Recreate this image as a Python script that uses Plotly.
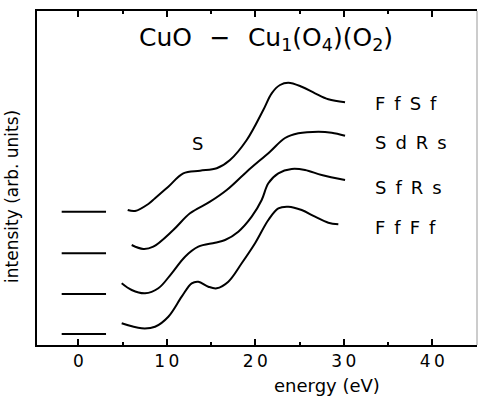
import plotly.graph_objects as go

# ---- data (energy in eV, intensity in arbitrary units) ----
ffff_x = [4.90, 7.16, 8.67, 10.17, 11.68, 12.81, 13.56, 14.69, 15.64, 16.95, 18.46, 19.97, 21.47, 22.60, 23.73, 25.24, 26.75, 28.25, 29.38]
ffff_y = [21.7, 16.7, 18.3, 28.3, 48.3, 61.7, 63.3, 58.3, 56.7, 63.3, 81.7, 101.7, 125, 136.7, 138.3, 135, 128.3, 122.3, 120.7]

sfrs_x = [4.90, 6.03, 7.54, 9.04, 10.55, 12.06, 13.56, 15.45, 16.58, 18.08, 19.59, 20.72, 21.47, 22.60, 24.11, 25.62, 27.50, 30.14]
sfrs_y = [61.7, 55, 51.7, 56.7, 71.7, 88.3, 98.3, 102.3, 105, 113.3, 128.3, 145, 161.7, 171.7, 176, 175, 170, 165]

sdrs_x = [6.03, 7.34, 8.47, 10.73, 12.62, 14.88, 16.77, 19.03, 21.66, 23.36, 24.86, 27.12, 28.63, 30.14]
sdrs_y = [100, 96, 98.3, 115, 131.7, 143.3, 155, 173.3, 193.3, 207, 211.7, 213.3, 212.3, 209.3]

ffsf_x = [5.58, 6.41, 7.91, 8.67, 10.17, 11.86, 13.75, 15.64, 17.14, 19.03, 20.90, 21.85, 22.79, 23.73, 25.24, 26.75, 28.25, 30.14]
ffsf_y = [135, 134, 141, 146.7, 158.3, 171.7, 174.3, 176.7, 185, 205, 235, 251.7, 260, 262.3, 258.3, 251.7, 245.7, 242.7]

baseline_x = [-1.88, 3.13]
baselines = [11, 51, 91.7, 133.3]          # FfFf, SfRs, SdRs, FfSf

labels = ["F\u2002f\u2002S\u2002f", "S\u2002d\u2002R\u2002s", "S\u2002f\u2002R\u2002s", "F\u2002f\u2002F\u2002f"]
label_y = [241.7, 202.5, 157.5, 117.5]
label_x = 33.3

peak_label = "S"
peak_label_x, peak_label_y = 13.5, 202

x_ticks = [0, 10, 20, 30, 40]
x_ticktext = ["0", "1\u20090", "2\u20090", "3\u20090", "4\u20090"]
x_minor = [5, 15, 25, 35]

title_text = ("CuO\u2002\u2009\u2212\u2002\u2009Cu<sub>1</sub>(O<sub>4</sub>)(O<sub>2</sub>)")

FONT = "DejaVu Sans"

fig = go.Figure()

for xs, ys in [(ffff_x, ffff_y), (sfrs_x, sfrs_y), (sdrs_x, sdrs_y), (ffsf_x, ffsf_y)]:
    fig.add_trace(go.Scatter(x=xs, y=ys, mode="lines",
                             line=dict(color="black", width=2, shape="spline", smoothing=1.0),
                             showlegend=False, hoverinfo="skip"))

for b in baselines:
    fig.add_trace(go.Scatter(x=baseline_x, y=[b, b], mode="lines",
                             line=dict(color="black", width=2),
                             showlegend=False, hoverinfo="skip"))

for t, yv in zip(labels, label_y):
    fig.add_annotation(x=label_x, y=yv, text=t, showarrow=False, xanchor="left",
                       yanchor="middle", font=dict(family=FONT, size=18, color="black"))

fig.add_annotation(x=peak_label_x, y=peak_label_y, text=peak_label, showarrow=False,
                   xanchor="center", yanchor="middle",
                   font=dict(family=FONT, size=18, color="black"))

fig.add_annotation(xref="paper", yref="paper", x=0.52, y=0.915, xanchor="center",
                   yanchor="middle", text=title_text, showarrow=False,
                   font=dict(family=FONT, size=25, color="black"))

fig.add_annotation(xref="paper", yref="paper", x=-0.057, y=0.446, textangle=-90,
                   xanchor="center", yanchor="middle",
                   text="intensity (arb. units)", showarrow=False,
                   font=dict(family=FONT, size=17, color="black"))

fig.add_annotation(xref="paper", yref="paper", x=0.659, y=-0.12,
                   xanchor="center", yanchor="middle",
                   text="energy (eV)", showarrow=False,
                   font=dict(family=FONT, size=18, color="black"))

# right frame edge (faint in the original)
fig.add_shape(type="line", xref="paper", yref="paper", x0=1, x1=1, y0=0, y1=1,
              line=dict(color="#999999", width=1))

fig.update_xaxes(range=[-4.67, 45.05], tickvals=x_ticks, ticktext=x_ticktext,
                 ticks="inside", ticklen=6,
                 tickwidth=2, tickcolor="black", showline=True, linecolor="black",
                 linewidth=2, mirror="ticks", showgrid=False, zeroline=False,
                 automargin=False, ticklabelstandoff=0,
                 tickfont=dict(family=FONT, size=17, color="black"),
                 minor=dict(tickvals=x_minor, ticks="inside", ticklen=3,
                            tickwidth=2, tickcolor="black"))
fig.update_yaxes(range=[0, 334], showticklabels=False, ticks="", showline=True,
                 linecolor="black", linewidth=2, showgrid=False, zeroline=False,
                 automargin=False)

fig.update_layout(width=478, height=397,
                  margin=dict(l=37, r=1, t=11, b=52, autoexpand=False),
                  plot_bgcolor="white", paper_bgcolor="white")

# remove the default page margin so the 478x397 figure fills the window exactly
fig.write_html("out.html", config={"displayModeBar": False},
               post_script="document.body.style.margin='0';document.body.style.overflow='hidden';")
